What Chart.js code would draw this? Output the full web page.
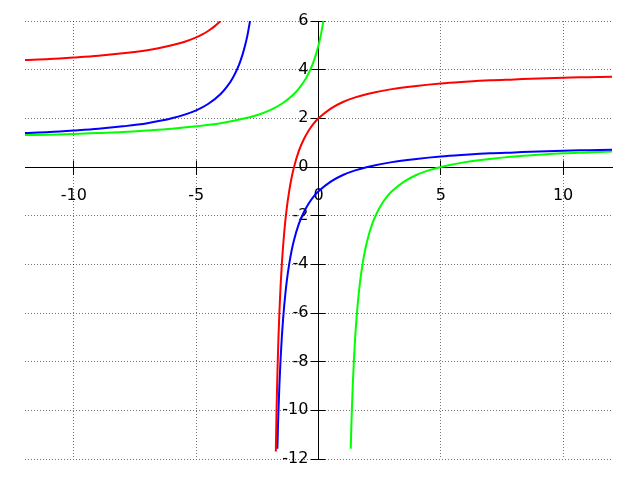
<!DOCTYPE html>
<html>
<head>
<meta charset="utf-8">
<script src="https://cdn.jsdelivr.net/npm/chart.js@4/dist/chart.umd.min.js"></script>
<style>
  html, body { margin: 0; padding: 0; background: #fff; }
  canvas { display: block; }
</style>
</head>
<body>
<canvas id="plot" width="640" height="480"></canvas>
<script>
"use strict";

// tick positions
const xTicks = [-10, -5, 0, 5, 10];
const yTicks = [-12, -10, -8, -6, -4, -2, 0, 2, 4, 6];

// red curve, left and right of its pole
const redLeftX = [-12, -11, -10, -9, -8, -7, -6.5, -6, -5.5, -5, -4.75, -4.5, -4.25, -4];
const redLeftY = [4.40, 4.44, 4.50, 4.57, 4.67, 4.80, 4.89, 5.00, 5.14, 5.33, 5.45, 5.60, 5.78, 6.00];
const redRightX = [-1.745, -1.72, -1.7, -1.67, -1.64, -1.6, -1.55, -1.5, -1.4, -1.3, -1.2, -1.1, -1.0,
  -0.8, -0.6, -0.4, -0.2, 0, 0.5, 1, 1.5, 2, 3, 4, 5, 6, 7, 8, 9, 10, 11, 12];
const redRightY = [-11.69, -10.29, -9.33, -8.12, -7.11, -6.0, -4.89, -4.0, -2.67, -1.71, -1.0, -0.44, 0,
  0.67, 1.14, 1.5, 1.78, 2.0, 2.4, 2.67, 2.86, 3.0, 3.2, 3.33, 3.43, 3.5, 3.56, 3.6, 3.64, 3.67, 3.69, 3.71];

// blue curve
const blueLeftX = [-12, -11, -10, -9, -8, -7, -6, -5, -4.5, -4, -3.75, -3.5, -3.25, -3.1, -3.0, -2.9, -2.8];
const blueLeftY = [1.40, 1.44, 1.50, 1.57, 1.67, 1.80, 2.00, 2.33, 2.60, 3.00, 3.29, 3.67, 4.20, 4.64, 5.00, 5.44, 6.00];
const blueRightX = [-1.682, -1.66, -1.64, -1.6, -1.55, -1.5, -1.45, -1.4, -1.3, -1.2, -1.1, -1.0,
  -0.8, -0.6, -0.4, -0.2, 0, 0.5, 1, 1.5, 2, 3, 4, 5, 6, 7, 8, 9, 10, 11, 12];
const blueRightY = [-11.58, -10.76, -10.11, -9.0, -7.89, -7.0, -6.27, -5.67, -4.71, -4.0, -3.44, -3.0,
  -2.33, -1.86, -1.5, -1.22, -1.0, -0.6, -0.33, -0.14, 0, 0.2, 0.33, 0.43, 0.5, 0.56, 0.6, 0.64, 0.67, 0.69, 0.71];

// green curve
const greenLeftX = [-12, -11, -10, -9, -8, -7, -6, -5, -4, -3, -2.5, -2, -1.5, -1, -0.75, -0.5, -0.25, -0.1, 0, 0.1, 0.2];
const greenLeftY = [1.31, 1.33, 1.36, 1.40, 1.44, 1.50, 1.57, 1.67, 1.80, 2.00, 2.14, 2.33, 2.60, 3.00, 3.29, 3.67, 4.20, 4.64, 5.00, 5.44, 6.00];
const greenRightX = [1.318, 1.34, 1.36, 1.4, 1.45, 1.5, 1.55, 1.6, 1.7, 1.8, 1.9, 2, 2.2, 2.4, 2.6, 2.8, 3,
  3.5, 4, 4.5, 5, 6, 7, 8, 9, 10, 11, 12];
const greenRightY = [-11.58, -10.76, -10.11, -9.0, -7.89, -7.0, -6.27, -5.67, -4.71, -4.0, -3.44, -3.0, -2.33, -1.86, -1.5, -1.22, -1.0,
  -0.6, -0.33, -0.14, 0, 0.2, 0.33, 0.43, 0.5, 0.56, 0.6, 0.64];

const pts = (xs, ys) => xs.map((x, i) => ({ x, y: ys[i] }));

const branch = (xs, ys, color) => ({
  data: pts(xs, ys),
  showLine: true,
  borderColor: color,
  borderWidth: 2,
  pointRadius: 0,
  cubicInterpolationMode: "monotone",
  fill: false,
});

const TICK = 7;
const align = (p) => Math.round(p - 0.5) + 0.5;

// matplotlib-style "inout" ticks: chart.js draws the outer half, this adds the inner half
const innerTicks = {
  id: "innerTicks",
  beforeDatasetsDraw(chart) {
    const { ctx, scales: { x, y } } = chart;
    const x0 = align(x.getPixelForValue(0));
    const y0 = align(y.getPixelForValue(0));
    ctx.save();
    ctx.strokeStyle = "#000";
    ctx.lineWidth = 1;
    ctx.beginPath();
    xTicks.forEach((v) => {
      const px = align(x.getPixelForValue(v));
      ctx.moveTo(px, y0);
      ctx.lineTo(px, y0 - TICK);
    });
    yTicks.forEach((v) => {
      const py = align(y.getPixelForValue(v));
      ctx.moveTo(x0, py);
      ctx.lineTo(x0 + TICK, py);
    });
    ctx.stroke();
    ctx.restore();
  },
};

const gridOpts = {
  color: "rgba(0,0,0,0.55)",
  lineWidth: 1,
  drawTicks: true,
  tickLength: TICK,
  tickColor: "#000",
  tickWidth: 1,
  tickBorderDash: [],
};
const borderOpts = { display: true, color: "#000", width: 1, dash: [1, 2] };
const tickFont = { family: "DejaVu Sans", size: 16 };

new Chart(document.getElementById("plot"), {
  type: "scatter",
  data: {
    datasets: [
      branch(redLeftX, redLeftY, "#ff0000"),
      branch(redRightX, redRightY, "#ff0000"),
      branch(blueLeftX, blueLeftY, "#0000ff"),
      branch(blueRightX, blueRightY, "#0000ff"),
      branch(greenLeftX, greenLeftY, "#00ff00"),
      branch(greenRightX, greenRightY, "#00ff00"),
    ],
  },
  options: {
    responsive: false,
    animation: false,
    layout: { padding: { left: 25, right: 28, top: 21, bottom: 21 } },
    plugins: { legend: { display: false }, tooltip: { enabled: false } },
    scales: {
      x: {
        type: "linear",
        position: { y: 0 },
        min: -12,
        max: 12,
        afterBuildTicks: (axis) => { axis.ticks = xTicks.map((v) => ({ value: v })); },
        ticks: { color: "#000", font: tickFont, padding: 12, autoSkip: false, maxRotation: 0 },
        grid: gridOpts,
        border: borderOpts,
      },
      y: {
        type: "linear",
        position: { x: 0 },
        min: -12,
        max: 6,
        afterBuildTicks: (axis) => { axis.ticks = yTicks.map((v) => ({ value: v })); },
        // value-positioned y axes put right-aligned labels on the axis line itself,
        // so pad them with two spaces to clear the tick marks
        ticks: { color: "#000", font: tickFont, autoSkip: false, callback: (v) => v + "  " },
        grid: gridOpts,
        border: borderOpts,
      },
    },
  },
  plugins: [innerTicks],
});
</script>
</body>
</html>
